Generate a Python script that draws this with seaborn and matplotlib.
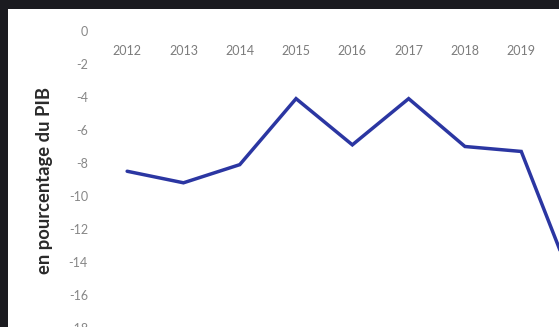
import matplotlib
matplotlib.use("Agg")
import matplotlib.pyplot as plt
import seaborn as sns
import pandas as pd
from matplotlib.patches import Rectangle

years = [2012, 2013, 2014, 2015, 2016, 2017, 2018, 2019, 2020]
solde = [-8.5, -9.2, -8.1, -4.1, -6.9, -4.1, -7.0, -7.3, -16.0]
year_labels = ["2012", "2013", "2014", "2015", "2016", "2017", "2018", "2019"]
y_ticks = [0, -2, -4, -6, -8, -10, -12, -14, -16, -18]
y_title = "en pourcentage du PIB"

df = pd.DataFrame({"annee": years, "solde": solde})

sns.set_theme(style="white")
plt.rcParams["font.family"] = ["Lato", "DejaVu Sans"]
plt.rcParams["axes.unicode_minus"] = False

W, H = 559, 327
fig = plt.figure(figsize=(W / 100, H / 100), dpi=100, facecolor="#1b1b20")

# white sheet of the chart on the dark frame
fig.patches.append(Rectangle((8 / W, 0), 1 - 8 / W, 1 - 9 / H,
                             transform=fig.transFigure, facecolor="white",
                             edgecolor="none", zorder=0))

# plot area: 0 at y=31 px, 16.5 px per unit, category step 56 px
px_unit = 16.5
y_lo = -18.4
top_px = 31
height_px = -y_lo * px_unit
left_px = 99
step = 56.3
x_lo, x_hi = 2011.5, 2020.5
width_px = (x_hi - x_lo) * step

ax = fig.add_axes([left_px / W, 1 - (top_px + height_px) / H,
                   width_px / W, height_px / H])
ax.set_zorder(2)
ax.set_facecolor("none")

sns.lineplot(data=df, x="annee", y="solde", ax=ax, color="#2b36a2",
             linewidth=2.5, solid_joinstyle="miter")

ax.set_xlim(x_lo, x_hi)
ax.set_ylim(y_lo, 0)
ax.set_yticks(y_ticks)
ax.set_yticklabels([str(v) for v in y_ticks])
ax.set_xticks(years[:len(year_labels)])
ax.set_xticklabels(year_labels)

for s in ax.spines.values():
    s.set_visible(False)

ax.xaxis.tick_top()
ax.tick_params(axis="x", top=False, bottom=False, labeltop=True,
               labelbottom=False, pad=-18.5, length=0,
               labelsize=9, labelcolor="#7c7c7c")
ax.tick_params(axis="y", left=False, length=0, pad=8,
               labelsize=9, labelcolor="#878787")

ax.set_xlabel("")
ax.set_ylabel(y_title, fontsize=13.2, fontweight="bold", color="#2a2a2a")
ax.yaxis.set_label_coords(-(left_px - 53) / width_px, 1 - (181 - top_px) / height_px)

fig.savefig("out.png", dpi=100, facecolor=fig.get_facecolor())
